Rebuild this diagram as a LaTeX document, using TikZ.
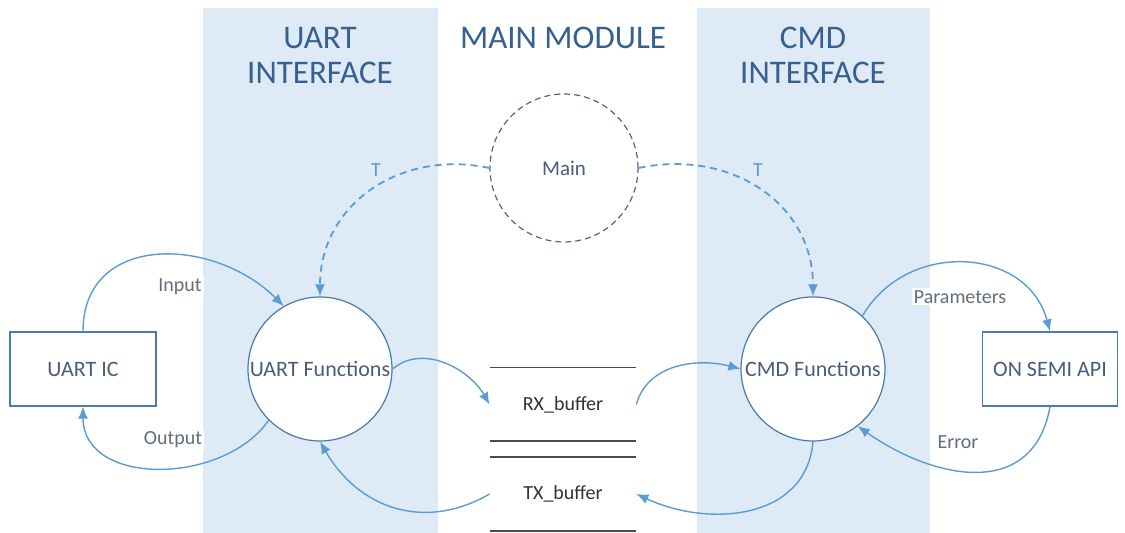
\documentclass[tikz,border=0pt]{standalone}
\usepackage{fontspec}
\setmainfont{Carlito}
\usepackage{tikz}
\definecolor{bandblue}{RGB}{222,234,246}
\definecolor{headblue}{RGB}{55,96,146}
\definecolor{flowblue}{RGB}{91,155,213}
\definecolor{edgeblue}{RGB}{72,124,176}
\definecolor{nodetext}{RGB}{75,92,122}
\definecolor{lbltext}{RGB}{100,110,122}
\definecolor{maingray}{RGB}{82,102,128}
\usetikzlibrary{arrows.meta,positioning}

\begin{document}
\begin{tikzpicture}[
    x=0.5pt, y=0.5pt,
    heading/.style={text=headblue, align=center, font=\fontsize{16.5}{17.5}\selectfont},
    process/.style={circle, draw=edgeblue, line width=0.6pt, fill=white, minimum size=72pt, inner sep=0pt, text=nodetext, font=\fontsize{11}{13}\selectfont},
    mainproc/.style={circle, draw=maingray, line width=0.6pt, dash pattern=on 3pt off 2pt, fill=white, minimum size=74pt, inner sep=0pt, text=nodetext, font=\fontsize{10.5}{12}\selectfont},
    extbox/.style={rectangle, draw=edgeblue, line width=0.6pt, fill=white, minimum height=37pt, inner sep=0pt, text=nodetext, font=\fontsize{11}{13}\selectfont},
    store/.style={rectangle, minimum width=73pt, minimum height=36.5pt, inner sep=0pt, text=black!80, font=\fontsize{10}{12}\selectfont},
    bufline/.style={draw=black!70, line width=0.9pt},
    lbl/.style={fill=white, inner sep=1pt, text=lbltext, font=\fontsize{10}{12}\selectfont},
    tlbl/.style={text=flowblue, font=\fontsize{10}{12}\selectfont},
    flow/.style={-{Latex[length=6pt,width=5pt]}, draw=flowblue, line width=0.7pt},
    tick/.style={-{Latex[length=6pt,width=5pt]}, draw=flowblue, line width=0.9pt, dash pattern=on 3.5pt off 2.5pt}
]
\useasboundingbox (0,0) rectangle (1125,533);

% interface bands
\fill[bandblue] (203,0) rectangle (438,525);
\fill[bandblue] (697,0) rectangle (930,525);

\node[heading] (uarthead) at (320,477.5) {UART\\INTERFACE};
\node[heading] (mainhead) at (563,495) {MAIN MODULE};
\node[heading] (cmdhead) at (813,477.5) {CMD\\INTERFACE};

% processes and externals
\node[mainproc] (main) at (564,365) {Main};
\node[process] (uf) at (320,164) {UART Functions};
\node[process] (cf) at (813,164) {CMD Functions};
\node[extbox, minimum width=73pt] (uic) at (83,164) {UART IC};
\node[extbox, minimum width=67.5pt] (api) at (1050,164) {ON SEMI API};

% buffers
\node[store] (rx) at (563,128.5) {RX\_buffer};
\node[store] (tx) at (563,39) {TX\_buffer};
\draw[bufline] (rx.north west) -- (rx.north east);
\draw[bufline] (rx.south west) -- (rx.south east);
\draw[bufline] (tx.north west) -- (tx.north east);
\draw[bufline] (tx.south west) -- (tx.south east);

% data flows
\draw[flow] (uic.north) to[out=90, in=135, looseness=1.25] (uf.120);
\draw[flow] (uf.225) to[out=235, in=270, looseness=1.1] (uic.south);
\draw[flow] (uf.east) to[out=40, in=120] (rx.west);
\draw[flow] (tx.west) to[out=210, in=-60, looseness=1.1] (uf.south);
\draw[flow] (rx.east) to[out=75, in=165] (cf.west);
\draw[flow] (cf.south) to[out=-95, in=-25, looseness=1.1] (tx.east);
\draw[flow] (cf.47) to[out=60, in=105, looseness=1.2] (api.north);
\draw[flow] (api.south) to[out=-100, in=-35, looseness=1.25] (cf.-52);

\node[lbl] (inlbl) at (180,246) {Input};
\node[lbl] (outlbl) at (173,93) {Output};
\node[lbl] (parlbl) at (960,236) {Parameters};
\node[lbl] (errlbl) at (958,91) {Error};

% timer ticks
\draw[tick] (main.west) to[out=168, in=90, looseness=1.1] (uf.north);
\draw[tick] (main.east) to[out=12, in=90, looseness=1.1] (cf.north);
\node[tlbl] (tleft) at (376,363) {T};
\node[tlbl] (tright) at (758,363) {T};

\end{tikzpicture}
\end{document}
